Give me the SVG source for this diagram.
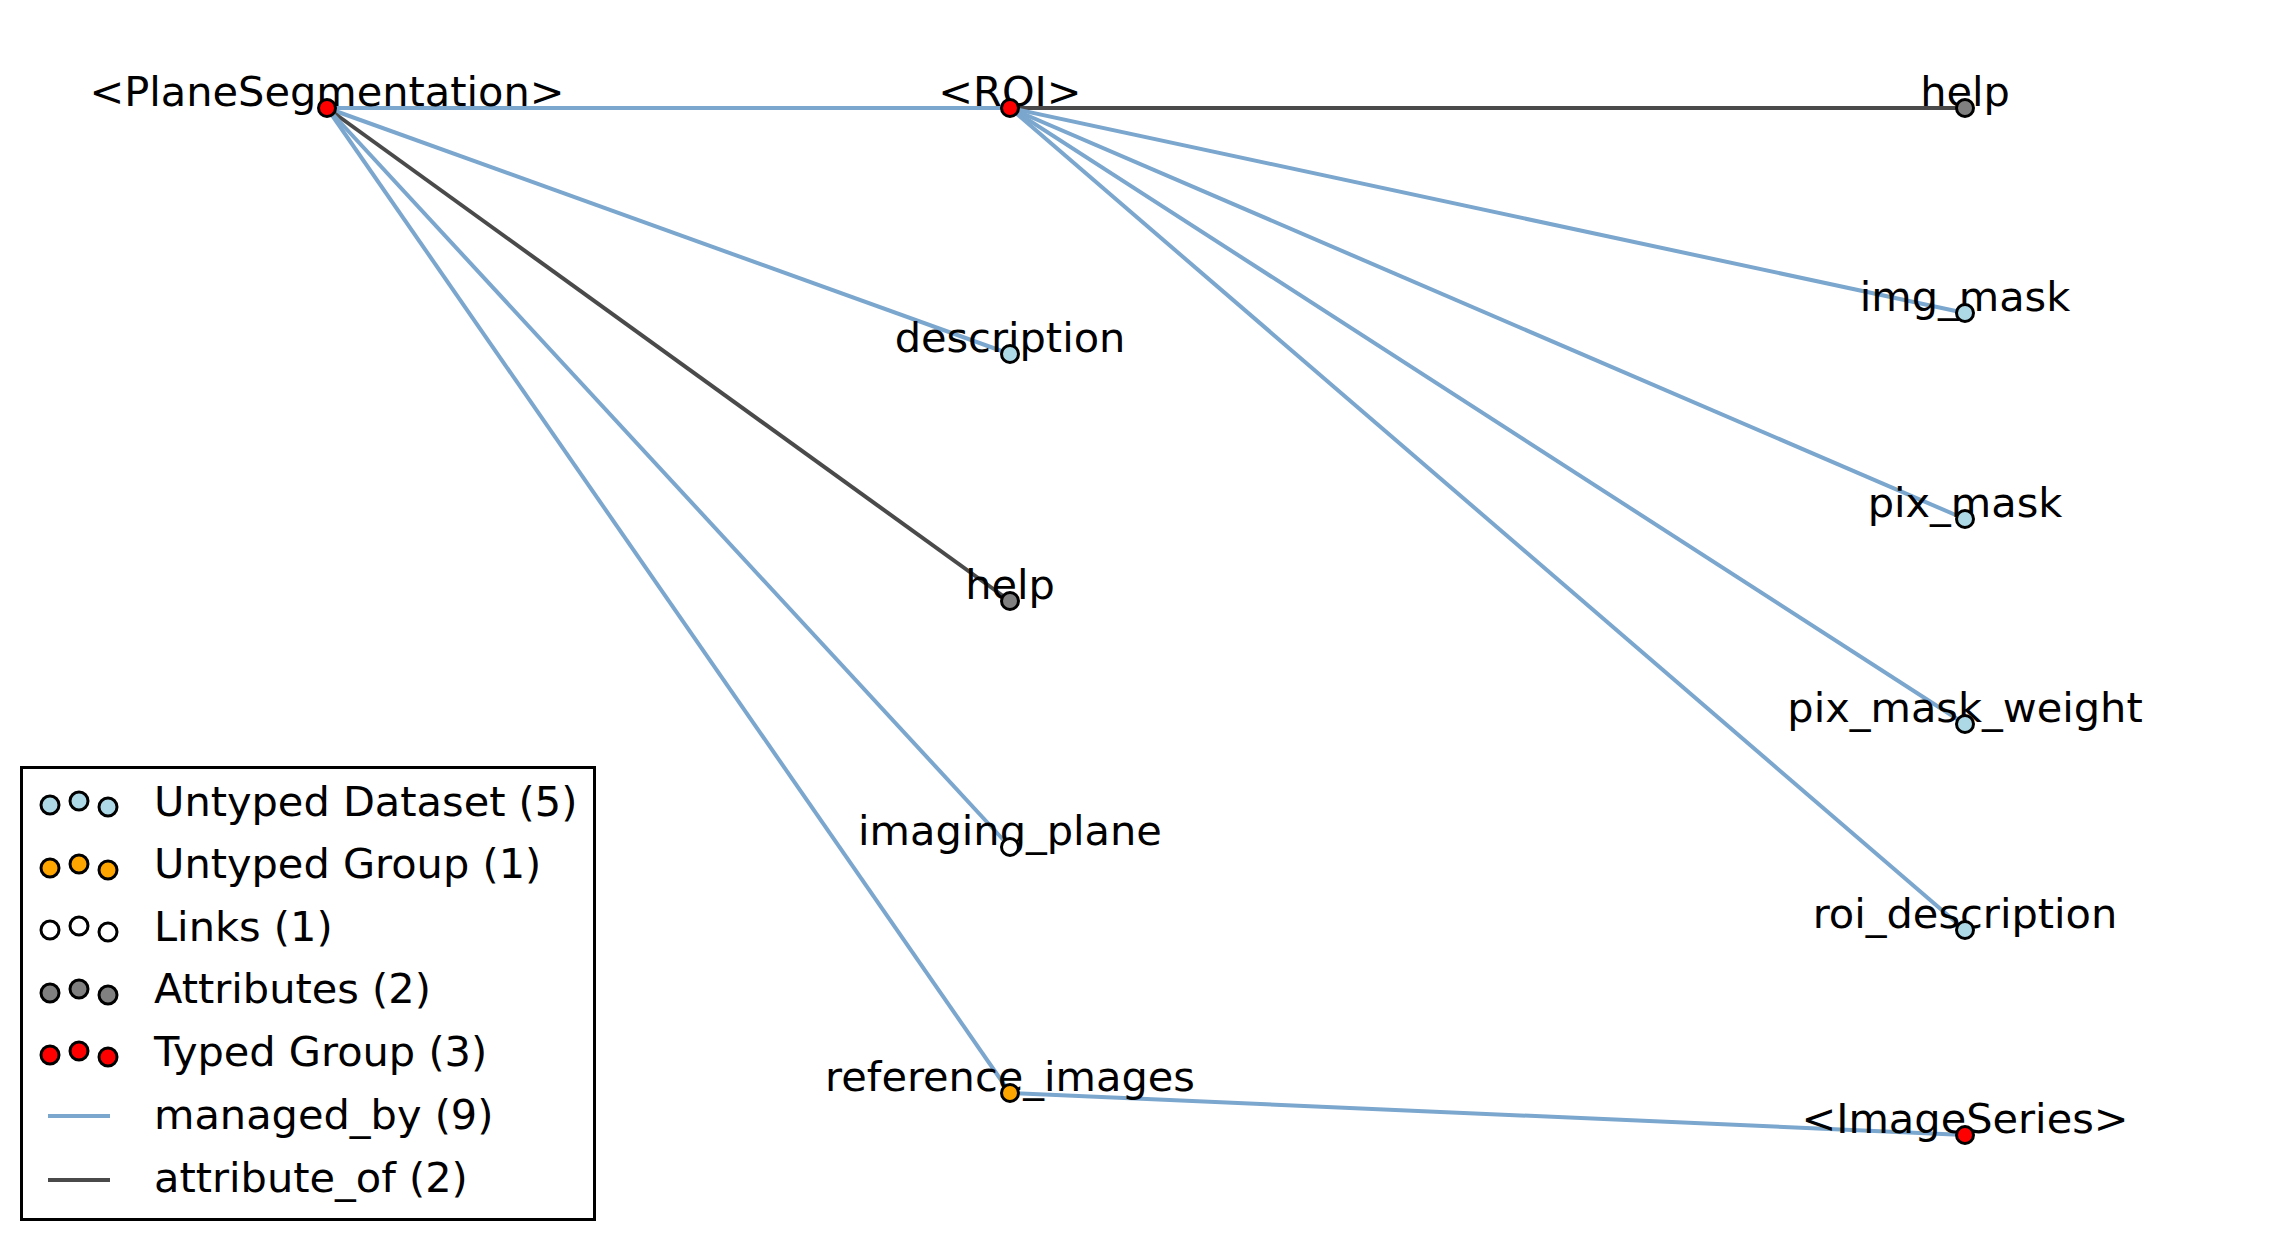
<svg xmlns="http://www.w3.org/2000/svg" width="2292" height="1242" viewBox="0 0 2292 1242">
  <style>
    text { font-family: "DejaVu Sans", sans-serif; fill: #000; }
    .lbl { font-size: 41.5px; text-anchor: middle; }
    .leg { font-size: 41.5px; }
    .managed { stroke: #7ba6cd; stroke-width: 4; fill: none; }
    .attr { stroke: #4a4a4a; stroke-width: 4; fill: none; }
    .node { stroke: #000; stroke-width: 3; }
    .dataset { fill: #add8e6; }
    .group { fill: #ffa500; }
    .link { fill: #ffffff; }
    .attribute { fill: #808080; }
    .typed { fill: #ff0000; }
  </style>
  <rect width="2292" height="1242" fill="#ffffff"/>

  <!-- connectors -->
  <g id="edges">
    <line class="managed" x1="327" y1="108" x2="1010" y2="108"/>
    <line class="managed" x1="327" y1="108" x2="1010" y2="354"/>
    <line class="attr" x1="327" y1="108" x2="1010" y2="601"/>
    <line class="managed" x1="327" y1="108" x2="1010" y2="847"/>
    <line class="managed" x1="327" y1="108" x2="1010" y2="1093"/>
    <line class="attr" x1="1010" y1="108" x2="1965" y2="108"/>
    <line class="managed" x1="1010" y1="108" x2="1965" y2="313"/>
    <line class="managed" x1="1010" y1="108" x2="1965" y2="519"/>
    <line class="managed" x1="1010" y1="108" x2="1965" y2="724"/>
    <line class="managed" x1="1010" y1="108" x2="1965" y2="930"/>
    <line class="managed" x1="1010" y1="1093" x2="1965" y2="1135"/>
  </g>

  <!-- nodes -->
  <g id="node-PlaneSegmentation">
    <text class="lbl" x="327" y="105.5">&lt;PlaneSegmentation&gt;</text>
    <circle class="node typed" cx="327" cy="108" r="8.5"/>
  </g>
  <g id="node-ROI">
    <text class="lbl" x="1010" y="105.5">&lt;ROI&gt;</text>
    <circle class="node typed" cx="1010" cy="108" r="8.5"/>
  </g>
  <g id="node-description">
    <text class="lbl" x="1010" y="351.5">description</text>
    <circle class="node dataset" cx="1010" cy="354" r="8.5"/>
  </g>
  <g id="node-help-ps">
    <text class="lbl" x="1010" y="598.5">help</text>
    <circle class="node attribute" cx="1010" cy="601" r="8.5"/>
  </g>
  <g id="node-imaging_plane">
    <text class="lbl" x="1010" y="844.5">imaging_plane</text>
    <circle class="node link" cx="1010" cy="847" r="8.5"/>
  </g>
  <g id="node-reference_images">
    <text class="lbl" x="1010" y="1090.5">reference_images</text>
    <circle class="node group" cx="1010" cy="1093" r="8.5"/>
  </g>
  <g id="node-help-roi">
    <text class="lbl" x="1965" y="105.5">help</text>
    <circle class="node attribute" cx="1965" cy="108" r="8.5"/>
  </g>
  <g id="node-img_mask">
    <text class="lbl" x="1965" y="310.5">img_mask</text>
    <circle class="node dataset" cx="1965" cy="313" r="8.5"/>
  </g>
  <g id="node-pix_mask">
    <text class="lbl" x="1965" y="516.5">pix_mask</text>
    <circle class="node dataset" cx="1965" cy="519" r="8.5"/>
  </g>
  <g id="node-pix_mask_weight">
    <text class="lbl" x="1965" y="721.5">pix_mask_weight</text>
    <circle class="node dataset" cx="1965" cy="724" r="8.5"/>
  </g>
  <g id="node-roi_description">
    <text class="lbl" x="1965" y="927.5">roi_description</text>
    <circle class="node dataset" cx="1965" cy="930" r="8.5"/>
  </g>
  <g id="node-ImageSeries">
    <text class="lbl" x="1965" y="1132.5">&lt;ImageSeries&gt;</text>
    <circle class="node typed" cx="1965" cy="1135" r="8.5"/>
  </g>

  <!-- legend -->
  <g id="legend">
    <rect x="21.5" y="767.5" width="573" height="452" fill="#ffffff" stroke="#000" stroke-width="3"/>
    <g>
      <circle class="node dataset" cx="50" cy="805" r="9"/>
      <circle class="node dataset" cx="79" cy="801" r="9"/>
      <circle class="node dataset" cx="108" cy="807" r="9"/>
      <text class="leg" x="154" y="816">Untyped Dataset (5)</text>
    </g>
    <g>
      <circle class="node group" cx="50" cy="868" r="9"/>
      <circle class="node group" cx="79" cy="864" r="9"/>
      <circle class="node group" cx="108" cy="870" r="9"/>
      <text class="leg" x="154" y="878">Untyped Group (1)</text>
    </g>
    <g>
      <circle class="node link" cx="50" cy="930" r="9"/>
      <circle class="node link" cx="79" cy="926" r="9"/>
      <circle class="node link" cx="108" cy="932" r="9"/>
      <text class="leg" x="154" y="941">Links (1)</text>
    </g>
    <g>
      <circle class="node attribute" cx="50" cy="993" r="9"/>
      <circle class="node attribute" cx="79" cy="989" r="9"/>
      <circle class="node attribute" cx="108" cy="995" r="9"/>
      <text class="leg" x="154" y="1003">Attributes (2)</text>
    </g>
    <g>
      <circle class="node typed" cx="50" cy="1055" r="9"/>
      <circle class="node typed" cx="79" cy="1051" r="9"/>
      <circle class="node typed" cx="108" cy="1057" r="9"/>
      <text class="leg" x="154" y="1066">Typed Group (3)</text>
    </g>
    <g>
      <line class="managed" x1="48" y1="1116" x2="110" y2="1116"/>
      <text class="leg" x="154" y="1129">managed_by (9)</text>
    </g>
    <g>
      <line class="attr" x1="48" y1="1180" x2="110" y2="1180"/>
      <text class="leg" x="154" y="1192">attribute_of (2)</text>
    </g>
  </g>
</svg>
